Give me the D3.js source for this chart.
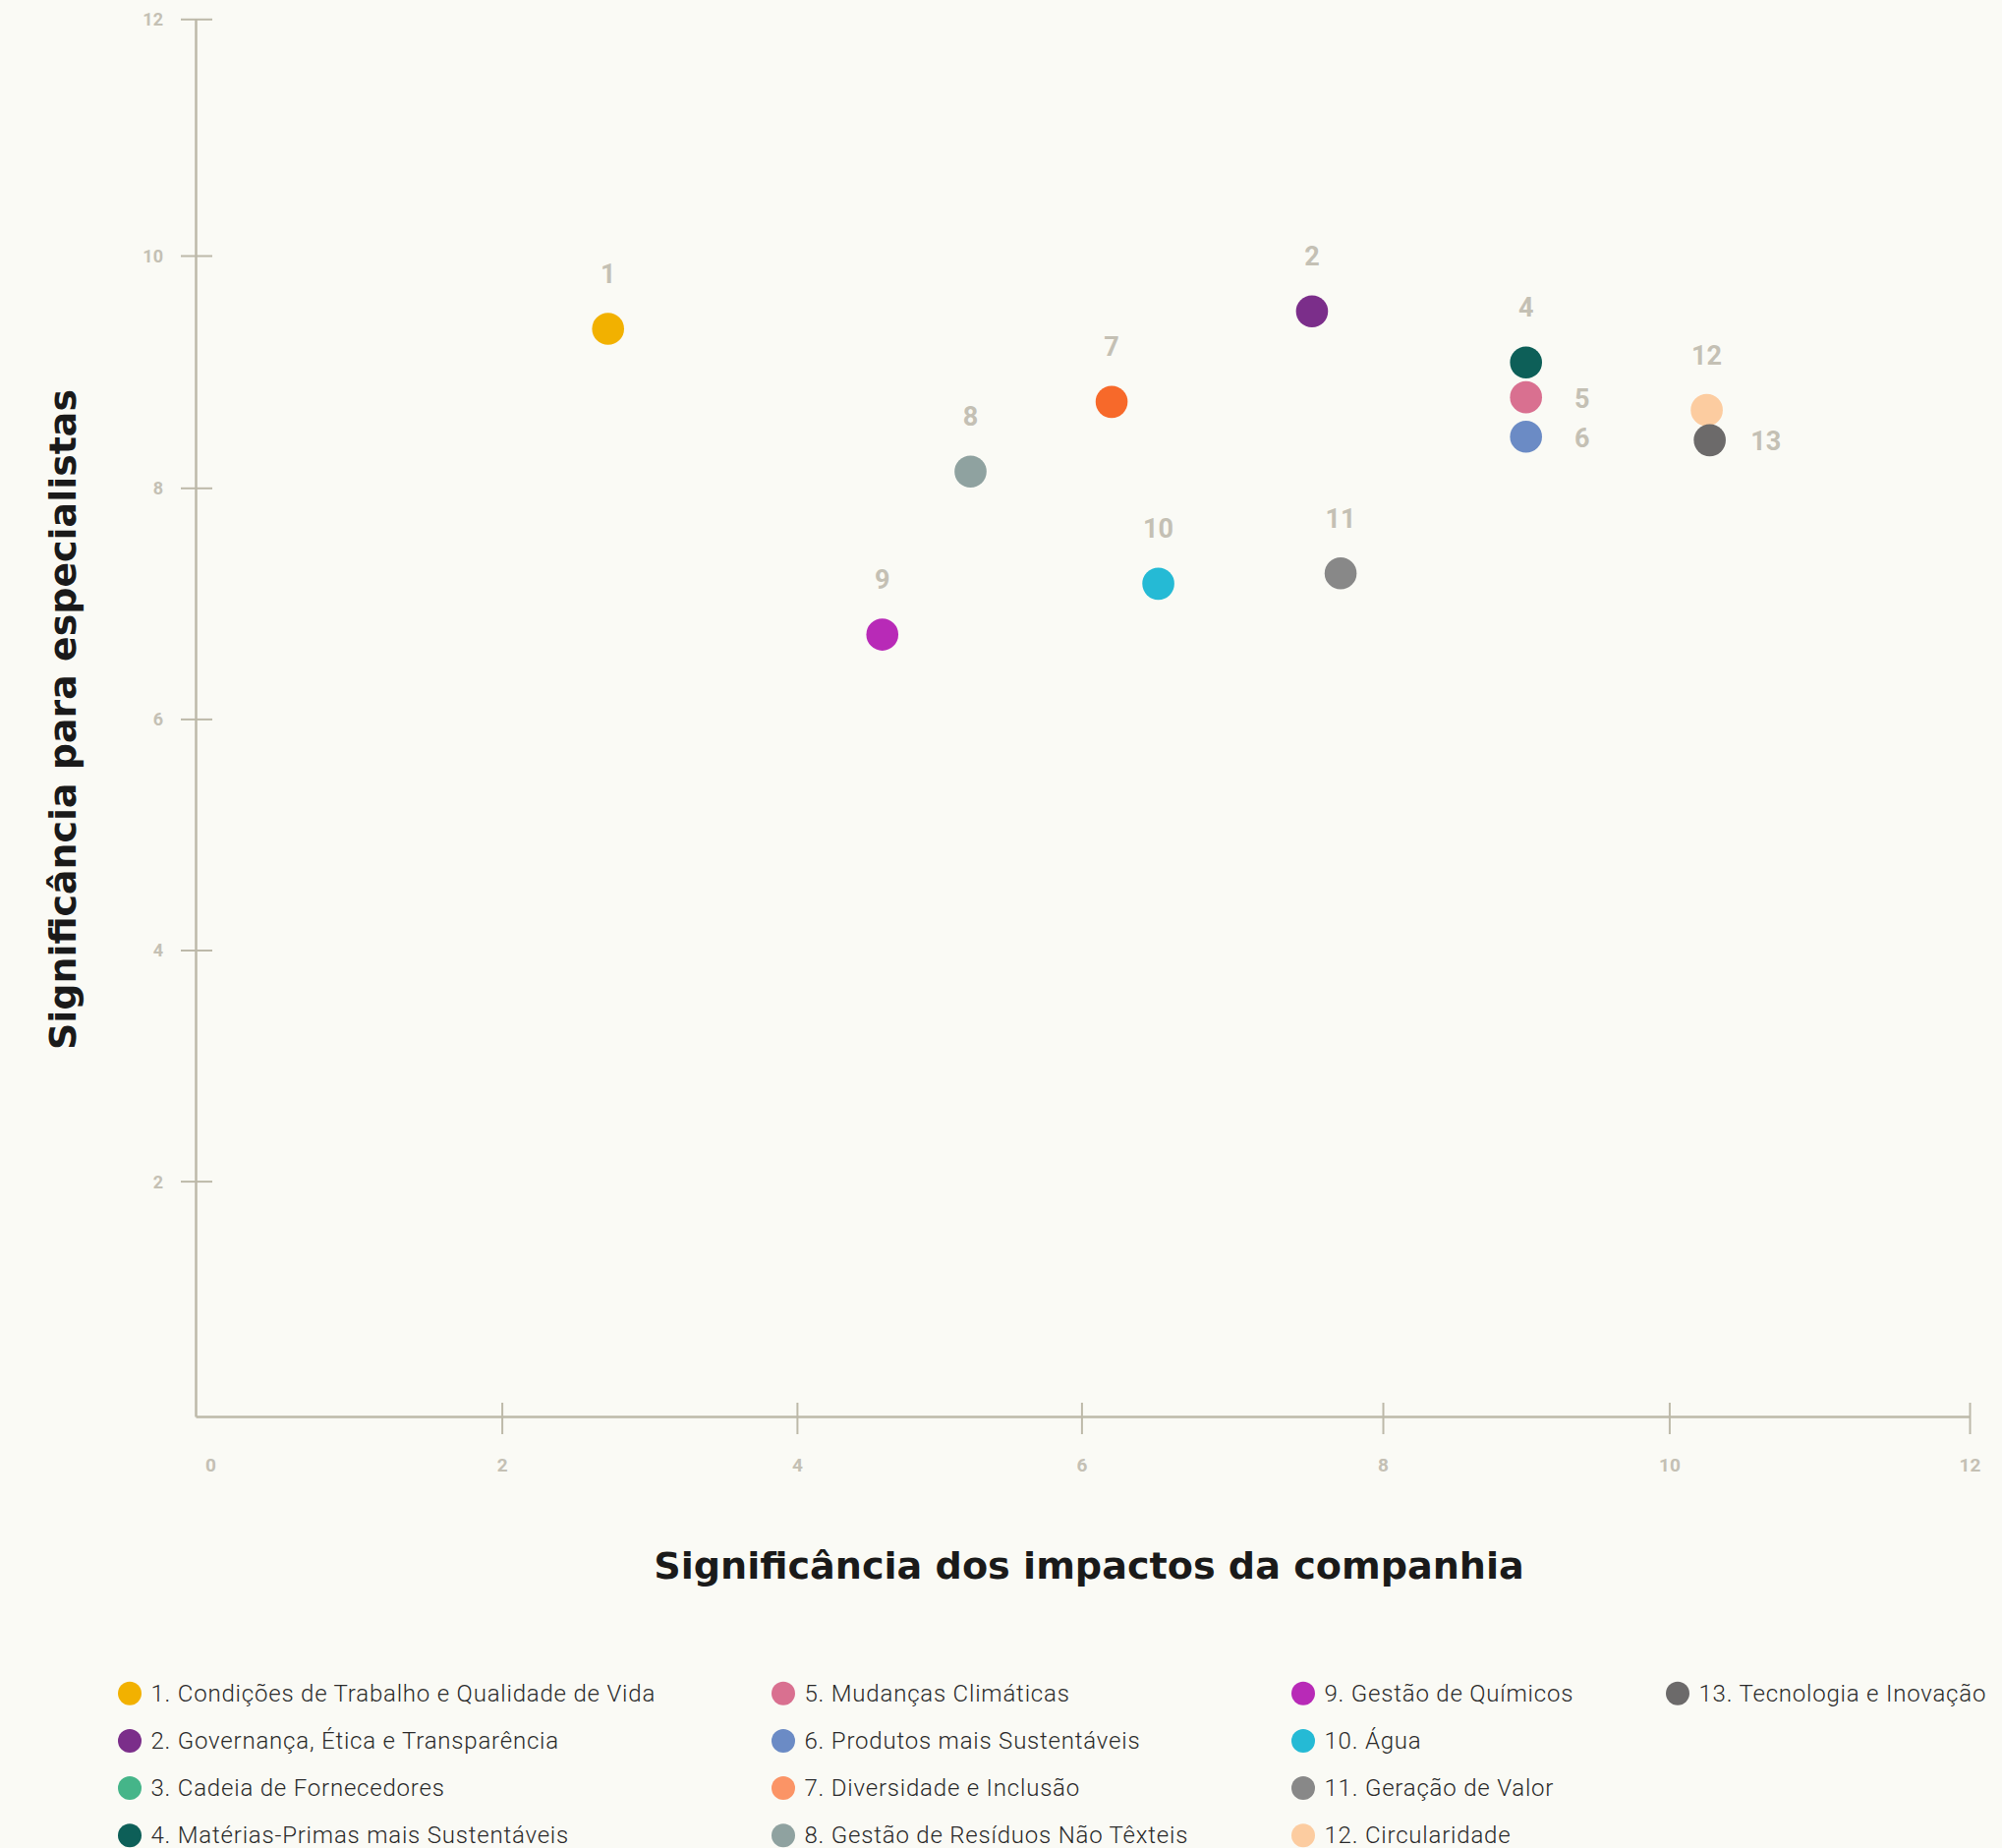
<!DOCTYPE html>
<html>
<head>
<meta charset="utf-8">
<script src="https://cdn.jsdelivr.net/npm/d3@7"></script>
<style>
  body { margin: 0; background: #fafaf5; }
  svg { display: block; }
  .tick-label { font-family: Roboto, sans-serif; font-weight: 700; fill: #c4c0b4; }
  .dot-label { font-family: Roboto, sans-serif; font-weight: 700; font-size: 27px; fill: #c4c0b4; }
  .axis-title { font-family: "DejaVu Sans", sans-serif; font-weight: 700; font-size: 37px; fill: #1a1a1a; }
  .legend-text { font-family: Roboto, sans-serif; font-weight: 300; font-size: 24px; letter-spacing: 0.8px; fill: #2b2b2b; }
</style>
</head>
<body>
<svg width="2037" height="1880"></svg>
<script>
// data
const topicIds = [1, 2, 3, 4, 5, 6, 7, 8, 9, 10, 11, 12, 13];
const topicNames = [
  "Condições de Trabalho e Qualidade de Vida",
  "Governança, Ética e Transparência",
  "Cadeia de Fornecedores",
  "Matérias-Primas mais Sustentáveis",
  "Mudanças Climáticas",
  "Produtos mais Sustentáveis",
  "Diversidade e Inclusão",
  "Gestão de Resíduos Não Têxteis",
  "Gestão de Químicos",
  "Água",
  "Geração de Valor",
  "Circularidade",
  "Tecnologia e Inovação"
];
// significância dos impactos da companhia (x)
const impactValues = [2.72, 7.53, null, 9.0, 9.0, 9.0, 6.2, 5.22, 4.6, 6.51, 7.72, 10.25, 10.27];
// significância para especialistas (y)
const expertValues = [9.37, 9.52, null, 9.08, 8.78, 8.44, 8.74, 8.14, 6.73, 7.17, 7.26, 8.67, 8.41];
const xTickValues = [0, 2, 4, 6, 8, 10, 12];
const yTickValues = [2, 4, 6, 8, 10, 12];
const xTitle = "Significância dos impactos da companhia";
const yTitle = "Significância para especialistas";

// colours
const dotColors = ["#f2b100", "#7b2e8a", "#45b589", "#0d5f58", "#d97090", "#6b8bc5", "#f7692a",
  "#8fa2a0", "#b82ab7", "#25bad5", "#888888", "#fccca0", "#6c6a6a"];
const legendColors = dotColors.map((c, i) => (topicIds[i] === 7 ? "#fb9466" : c));
const axisColor = "#bdb9a9";

// labels drawn to the right of the dot instead of above it
const sideLabels = [5, 6, 13];

const svg = d3.select("svg");

// scales (the drawn grid is slightly uneven, so stops are given per tick)
const x = d3.scaleLinear()
  .domain(xTickValues)
  .range([199, 510.6, 810.9, 1100.4, 1407, 1698.4, 2004]);
const y = d3.scaleLinear()
  .domain([0, 2, 4, 6, 8, 10, 12])
  .range([1441, 1201.6, 966.5, 731.4, 496.3, 260, 19.3]);

// x axis
const xAxis = svg.append("g")
  .attr("transform", `translate(0,${y(0)})`)
  .call(d3.axisBottom(x).tickValues(xTickValues).tickSizeOuter(0).tickSize(0));
xAxis.select(".domain").attr("stroke", axisColor).attr("stroke-width", 2.5);
xAxis.selectAll(".tick line")
  .attr("y1", -14).attr("y2", 18)
  .attr("stroke", axisColor).attr("stroke-width", 2)
  .attr("display", (d) => (d === 0 ? "none" : null));
xAxis.selectAll(".tick text")
  .attr("class", "tick-label")
  .attr("y", 56)
  .attr("dy", 0)
  .attr("dx", (d) => (d === 0 ? 15 : 0))
  .style("font-size", "19px");

// y axis
const yAxis = svg.append("g")
  .attr("transform", `translate(${x(0)},0)`)
  .call(d3.axisLeft(y).tickValues(yTickValues).tickSizeOuter(0).tickSize(0));
yAxis.select(".domain").attr("stroke", axisColor).attr("stroke-width", 2.5);
yAxis.selectAll(".tick line")
  .attr("x1", -15).attr("x2", 17)
  .attr("stroke", axisColor).attr("stroke-width", 2);
yAxis.selectAll(".tick text")
  .attr("class", "tick-label")
  .attr("x", -33)
  .attr("dy", "0.36em")
  .style("font-size", "18px");

// fit a title's font size to the width it has in the design
const fitWidth = (sel, target) => {
  const base = 37;
  const len = sel.node().getComputedTextLength();
  if (len > 0) sel.style("font-size", `${(base * target / len).toFixed(2)}px`);
};

// axis titles
svg.append("text")
  .attr("class", "axis-title")
  .attr("x", 1108)
  .attr("y", 1606)
  .attr("text-anchor", "middle")
  .text(xTitle)
  .call(fitWidth, 886);

svg.append("text")
  .attr("class", "axis-title")
  .attr("transform", "translate(77,732) rotate(-90)")
  .attr("text-anchor", "middle")
  .text(yTitle)
  .call(fitWidth, 672);

// points
const points = topicIds
  .map((id, i) => ({ id, name: topicNames[i], x: impactValues[i], y: expertValues[i], color: dotColors[i] }))
  .filter((d) => d.x !== null);

const pt = svg.append("g")
  .selectAll("g")
  .data(points)
  .enter().append("g")
    .attr("transform", (d) => `translate(${x(d.x)},${y(d.y)})`);

pt.append("circle")
  .attr("r", 16.3)
  .attr("fill", (d) => d.color);

pt.append("text")
  .attr("class", "dot-label")
  .attr("text-anchor", "middle")
  .attr("x", (d) => (sideLabels.includes(d.id) ? 57 : 0))
  .attr("y", (d) => (sideLabels.includes(d.id) ? 1 : -56))
  .attr("dy", "0.35em")
  .text((d) => d.id);

// legend
const legendColX = [132, 797, 1326, 1707];
const legendRowY = 1722.7;
const legendRowGap = 48.2;
const legendPerCol = 4;

const legendItem = svg.append("g")
  .selectAll("g")
  .data(topicIds)
  .enter().append("g")
    .attr("transform", (d, i) => `translate(${legendColX[Math.floor(i / legendPerCol)]},${legendRowY + (i % legendPerCol) * legendRowGap})`);

legendItem.append("circle")
  .attr("r", 12)
  .attr("fill", (d, i) => legendColors[i]);

legendItem.append("text")
  .attr("class", "legend-text")
  .attr("x", 21.5)
  .attr("y", 8)
  .text((d, i) => `${d}. ${topicNames[i]}`);
</script>
</body>
</html>
